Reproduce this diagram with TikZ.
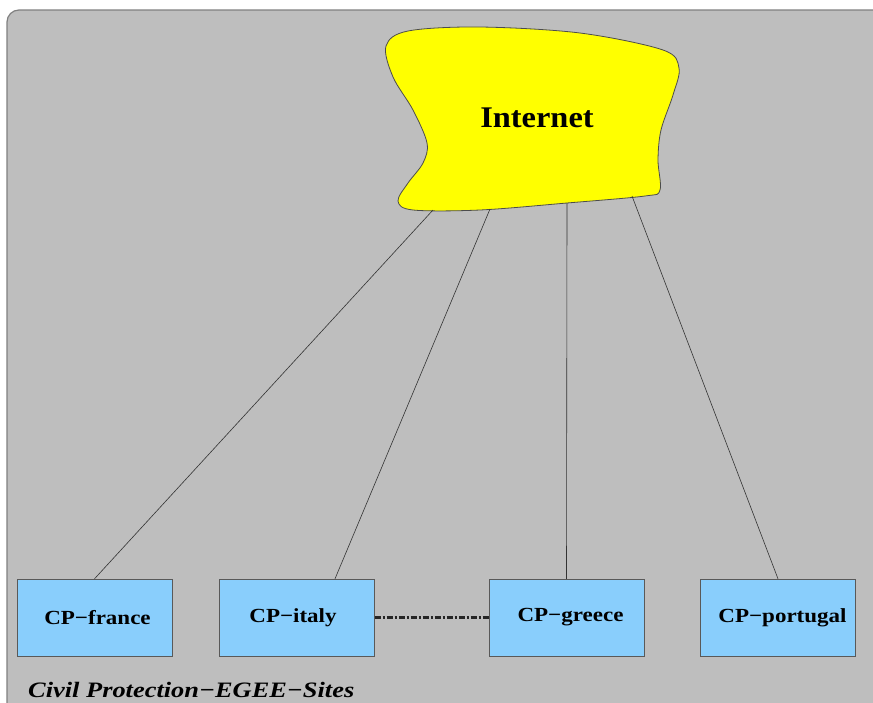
\documentclass[tikz,border=0pt]{standalone}
\usepackage{fontspec}
\setmainfont{Liberation Serif}
\newcommand{\wide}[2]{\scalebox{#1}[1]{#2}}
\begin{document}
\begin{tikzpicture}[x=1pt,y=-1pt,
  site/.style={draw=black!65,fill=skyblue,minimum width=155pt,minimum height=77pt,inner sep=0pt,
    font=\fontsize{20}{22}\selectfont\bfseries},
  link/.style={draw=black!80,line width=0.6pt}]
\definecolor{skyblue}{RGB}{137,206,252}
\definecolor{panel}{RGB}{190,190,190}
\definecolor{cloudy}{RGB}{255,255,0}
\useasboundingbox (0,0) rectangle (873,702);
\fill[white] (0,0) rectangle (873,702);
\begin{scope}
\clip (0,0) rectangle (873,702);
\draw[draw=black!50,fill=panel,line width=1.2pt,rounded corners=12pt] (7,10) rectangle (920,740);
\end{scope}
% cloud
\draw[fill=cloudy,draw=black!70,line width=0.8pt] plot[smooth cycle,tension=0.55] coordinates {
 (386,46) (408,31) (480,27) (580,33) (663,50) (679,68) (673,95) (661,130) (658,160)
 (660,190) (645,196) (567,203) (480,210) (413,210) (398,201) (408,183) (423,163)
 (427,143) (413,110) (393,77)};
\node[font=\fontsize{30}{32}\selectfont\bfseries] (inet) at (537,118) {\wide{1.08}{Internet}};
\coordinate (c1) at (433,210);
\coordinate (c2) at (490,209);
\coordinate (c3) at (567,203);
\coordinate (c4) at (632,196);
% sites
\node[site] (fr) at (94.5,617.5) {\hspace*{6pt}\wide{1.15}{CP−france}};
\node[site] (it) at (297,617.5) {\hspace*{-8pt}\wide{1.15}{CP−italy}};
\node[site] (gr) at (566.5,617.5) {\hspace*{8pt}\wide{1.15}{CP−greece}};
\node[site] (pt) at (778,617.5) {\hspace*{9pt}\wide{1.15}{CP−portugal}};
\draw[link] (c1) -- (fr.north);
\draw[link] (c2) -- ([xshift=38pt]it.north);
\draw[link] (c3) -- (gr.north);
\draw[link] (c4) -- (pt.north);
\draw[line width=2.6pt,draw=black!85,dash pattern=on 6pt off 2pt on 2pt off 2pt] (it.east) -- (gr.west);
\node[anchor=base west,inner sep=0pt,font=\fontsize{22}{24}\selectfont\bfseries\itshape] (lbl) at (28,697) {\wide{1.2}{Civil Protection−EGEE−Sites}};
\end{tikzpicture}
\end{document}
